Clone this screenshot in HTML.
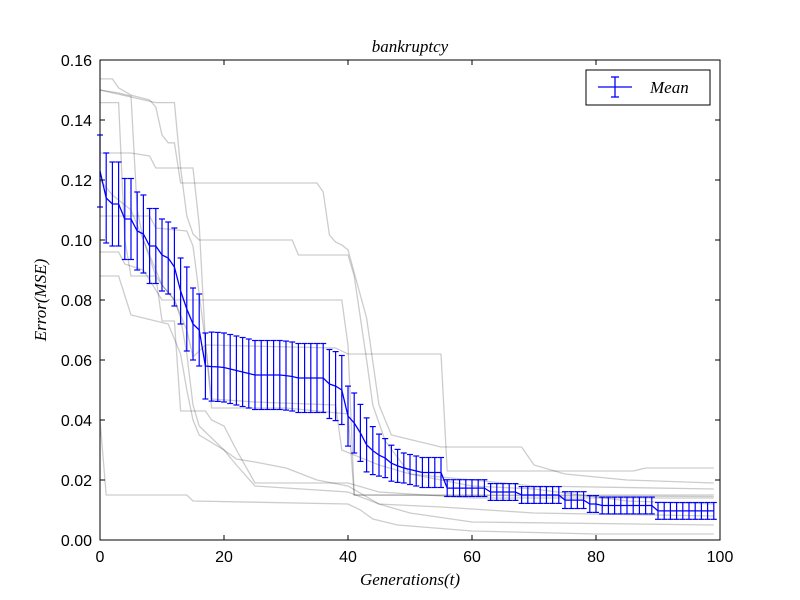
<!DOCTYPE html>
<html><head><meta charset="utf-8"><style>
html,body{margin:0;padding:0;background:#fff;}
svg{display:block;}
.tk{font-family:"Liberation Sans",sans-serif;font-size:16px;fill:#000;}
.it{font-family:"Liberation Serif",serif;font-style:italic;fill:#000;}
</style></head><body>
<svg id="chart" width="800" height="600" viewBox="0 0 800 600" xmlns="http://www.w3.org/2000/svg">
<rect width="800" height="600" fill="#fff"/>
<g id="runs"></g>
<g id="mean"></g>
<g id="axes"></g>
<text class="it" x="410" y="52" font-size="17" text-anchor="middle">bankruptcy</text>
<text class="it" x="410" y="585" font-size="17" text-anchor="middle">Generations(t)</text>
<text class="it" x="0" y="0" font-size="17" text-anchor="middle" transform="translate(46,300) rotate(-90)">Error(MSE)</text>
<g>
<rect x="586" y="70" width="124" height="35" fill="#fff" stroke="#000" stroke-width="1"/>
<g stroke="#0000ff" stroke-width="1.3">
<line x1="598" y1="87" x2="632" y2="87"/><line x1="615" y1="77" x2="615" y2="97"/>
<line x1="611" y1="77" x2="619" y2="77"/><line x1="611" y1="97" x2="619" y2="97"/>
</g>
<text class="it" x="650" y="93" font-size="17">Mean</text>
</g>
</svg>
<script>
const meanVals=[.123,.114,.112,.112,.107,.107,.103,.102,.098,.098,
.095,.094,.091,.083,.077,.072,.070,.058,.0578,.0577,
.0575,.057,.0565,.056,.0555,.055,.055,.055,.055,.055,
.0548,.0545,.054,.054,.054,.054,.054,.052,.0513,.050,
.0413,.039,.0357,.0317,.0298,.0283,.0273,.0256,.0247,.024,
.0235,.023,.0225,.0225,.0225,.0225,.0173,.0173,.0173,.0173,
.0173,.0173,.0173,.016,.016,.016,.016,.016,.015,.015,
.015,.015,.015,.015,.015,.0133,.0133,.0133,.0133,.012,
.012,.0115,.0115,.0115,.0115,.0115,.0115,.0115,.0115,.0115,
.0097,.0097,.0097,.0097,.0097,.0097,.0097,.0097,.0097,.0097];
const stdVals=[.012,.015,.014,.014,.0135,.0135,.013,.013,.0125,.0125,
.012,.012,.013,.011,.014,.012,.012,.011,.0115,.0115,
.0115,.0115,.0115,.0115,.0115,.0115,.0115,.0115,.0115,.0115,
.0115,.0115,.0115,.0115,.0115,.0115,.0115,.0115,.0115,.0115,
.010,.010,.0095,.009,.008,.007,.0065,.006,.0055,.005,
.005,.005,.005,.005,.005,.005,.0028,.0028,.0028,.0028,
.0028,.0028,.0028,.0028,.0028,.0028,.0028,.0028,.0028,.0028,
.0028,.0028,.0028,.0028,.0028,.0028,.0028,.0028,.0028,.0028,
.0028,.0028,.0028,.0028,.0028,.0028,.0028,.0028,.0028,.0028,
.0028,.0028,.0028,.0028,.0028,.0028,.0028,.0028,.0028,.0028];
const run1=[[0,.1537],[2,.1537],[3,.1507],[5,.1483],[8,.1467],[9,.1443],[10,.135],[11,.1324],[12,.1324],[13,.119],[35,.119],[36,.116],[37,.1017],[38,.0993],[39,.0983],[40,.0967],[43,.074],[45,.045],[47,.035],[55,.031],[68,.031],[70,.025],[75,.022],[85,.020],[99,.019]];
const run2=[[0,.150],[3,.149],[5,.148],[6,.110],[7,.100],[9,.088],[10,.073],[12,.073],[13,.043],[17,.043],[18,.040],[20,.038],[22,.030],[25,.019],[40,.019],[45,.016],[60,.014],[99,.014]];
const run3=[[0,.1458],[3,.1458],[4,.100],[5,.088],[9,.088],[10,.085],[12,.080],[13,.074],[14,.062],[15,.045],[16,.038],[17,.036],[20,.030],[22,.027],[25,.026],[30,.024],[35,.020],[40,.018],[45,.012],[50,.009],[60,.006],[99,.005]];
const run4=[[0,.150],[9,.1458],[12,.1458],[13,.124],[14,.108],[15,.102],[16,.100],[31,.100],[32,.095],[40,.095],[41,.088],[43,.060],[44,.045],[46,.033],[50,.022],[60,.020],[70,.018],[99,.017]];
const run5=[[0,.129],[5,.129],[8,.128],[9,.124],[15,.124],[16,.105],[17,.066],[18,.044],[30,.044],[40,.042],[41,.015],[99,.015]];
const run6=[[0,.108],[8,.108],[9,.104],[14,.103],[15,.098],[17,.066],[18,.047],[25,.046],[38,.045],[39,.030],[45,.025],[50,.022],[55,.020],[60,.018],[70,.017],[85,.013],[99,.012]];
const run7=[[0,.096],[3,.096],[4,.092],[7,.090],[10,.080],[39,.080],[40,.065],[41,.015],[99,.0145]];
const run8=[[0,.088],[3,.088],[5,.075],[9,.073],[11,.072],[13,.062],[14,.050],[15,.040],[16,.035],[20,.030],[22,.025],[25,.018],[40,.016],[45,.012],[55,.011],[70,.009],[99,.008]];
const run9=[[0,.040],[1,.015],[14,.015],[15,.013],[40,.012],[42,.010],[44,.007],[48,.005],[60,.003],[80,.002],[99,.002]];
const run10=[[0,.120],[2,.115],[5,.110],[10,.085],[12,.080],[14,.070],[15,.061],[17,.065],[38,.064],[40,.062],[55,.062],[56,.023],[86,.023],[88,.024],[99,.024]];
const runs=[run1,run2,run3,run4,run5,run6,run7,run8,run9,run10];
const xTicks=[0,20,40,60,80,100];
const yTicks=[0,0.02,0.04,0.06,0.08,0.10,0.12,0.14,0.16];
const yTickLabels=["0.00","0.02","0.04","0.06","0.08","0.10","0.12","0.14","0.16"];

const L=100,R=720,T=60,B=540;
const xs=g=>L+(R-L)*g/100;
const ys=v=>B-(B-T)*v/0.16;
const NS="http://www.w3.org/2000/svg";
function mk(tag,attrs,parent){const e=document.createElementNS(NS,tag);for(const k in attrs)e.setAttribute(k,attrs[k]);parent.appendChild(e);return e;}

const gr=document.getElementById('runs');
runs.forEach((r,i)=>{
  const p=mk('polyline',{points:r.map(d=>xs(d[0])+','+ys(d[1])).join(' '),fill:'none',stroke:'#000','stroke-opacity':'0.2','stroke-width':'1.3'},gr);
  
  
});
const gm=document.getElementById('mean');
meanVals.forEach((m,i)=>{
  const x=xs(i),y1=ys(m+stdVals[i]),y2=ys(m-stdVals[i]);
  const g=mk('g',{stroke:'#0000ff','stroke-width':'1.2'},gm);
  
  
  mk('line',{x1:x,y1:y1,x2:x,y2:y2},g);
  mk('line',{x1:x-3,y1:y1,x2:x+3,y2:y1},g);
  mk('line',{x1:x-3,y1:y2,x2:x+3,y2:y2},g);
});
const ml=mk('polyline',{points:meanVals.map((m,i)=>xs(i)+','+ys(m)).join(' '),fill:'none',stroke:'#0000ff','stroke-width':'1.3'},gm);



const ga=document.getElementById('axes');
const fr=mk('rect',{x:L,y:T,width:R-L,height:B-T,fill:'none',stroke:'#000','stroke-width':'1'},ga);


xTicks.forEach(t=>{
  const x=xs(t);
  mk('line',{x1:x,y1:B,x2:x,y2:B-5,stroke:'#000'},ga);
  mk('line',{x1:x,y1:T,x2:x,y2:T+5,stroke:'#000'},ga);
  const tx=mk('text',{x:x,y:B+22,'text-anchor':'middle',class:'tk'},ga);
  tx.textContent=t;
  
  
});
yTicks.forEach((t,i)=>{
  const y=ys(t);
  mk('line',{x1:L,y1:y,x2:L+5,y2:y,stroke:'#000'},ga);
  mk('line',{x1:R,y1:y,x2:R-5,y2:y,stroke:'#000'},ga);
  const tx=mk('text',{x:L-8,y:y+6,'text-anchor':'end',class:'tk'},ga);
  tx.textContent=yTickLabels[i];
  
  
});
</script>
</body></html>
